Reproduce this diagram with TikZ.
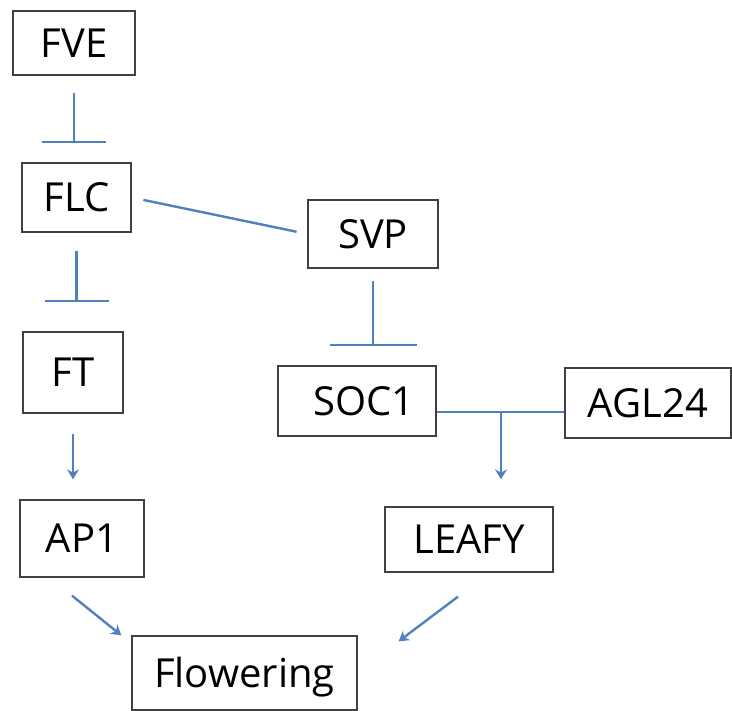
\documentclass[tikz,border=0pt]{standalone}
\usepackage{fontspec}
\setmainfont{Open Sans}
\usetikzlibrary{arrows.meta}
\definecolor{linkblue}{HTML}{4F81BD}

\begin{document}
\begin{tikzpicture}[x=1pt,y=-1pt,
  gene/.style={draw=black!75,line width=1.3pt,inner sep=0pt,
    text height=29pt,text depth=0pt,font=\fontsize{40}{48}\selectfont},
  link/.style={draw=linkblue,line width=2.4pt},
  act/.style={link,-{Stealth[length=10pt,width=12pt]}},
  inh/.style={link,-{Bar[width=#1]}}]
\useasboundingbox (0,0) rectangle (732,711);
\node[gene,minimum width=122pt,minimum height=64pt] (fve) at (74,43) {FVE};
\node[gene,minimum width=109pt,minimum height=69pt] (flc) at (76.5,197.5) {FLC};
\node[gene,minimum width=130pt,minimum height=68pt] (svp) at (373,234) {SVP};
\node[gene,minimum width=100pt,minimum height=81pt] (ft) at (73,372.5) {FT};
\node[gene,minimum width=158pt,minimum height=70pt] (soc) at (357,401) {\hspace{14pt}SOC1};
\node[gene,minimum width=166pt,minimum height=70pt] (agl) at (648,403) {AGL24};
\node[gene,minimum width=124pt,minimum height=77pt] (ap1) at (82,538.5) {AP1\hspace{17pt}};
\node[gene,minimum width=168pt,minimum height=65pt] (leafy) at (469,539.5) {LEAFY};
\node[gene,minimum width=225pt,minimum height=74pt] (flow) at (244.5,673) {Flowering};
\coordinate (join) at (501,412);
% repression
\draw[inh=64pt,shorten <=17pt,shorten >=19pt] (fve.south) -- (fve.south |- flc.north);
\draw[inh=64pt,shorten <=18pt,shorten >=29pt] (flc.south) -- (flc.south |- ft.north);
\draw[inh=87pt,shorten <=12pt,shorten >=19pt] (svp.south) -- (svp.south |- soc.north);
\draw[link,shorten <=12pt,shorten >=11pt] (flc.east) -- (svp.west);
% activation
\draw[act,shorten <=20pt,shorten >=20pt] (ft.south) -- (ft.south |- ap1.north);
\draw[link] (soc.east |- join) -- (agl.west |- join);
\draw[act,shorten >=27pt] (join) -- (join |- leafy.north);
\draw[act] ([shift={(-10,18)}]ap1.south) -- ([shift={(-10,0)}]flow.north west);
\draw[act] ([shift={(-11,24)}]leafy.south) -- ([shift={(41,6)}]flow.north east);
\end{tikzpicture}
\end{document}
